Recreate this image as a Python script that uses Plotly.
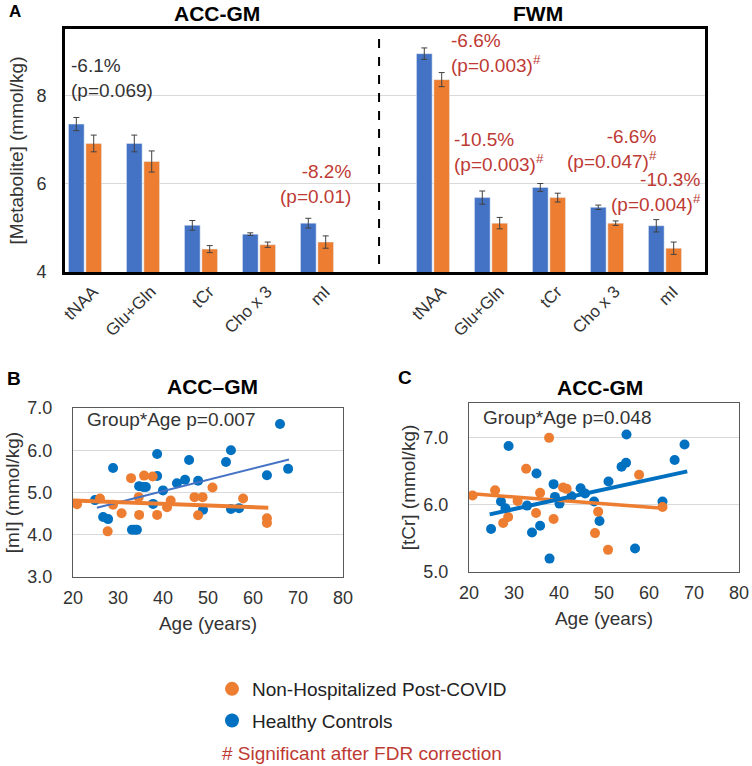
import plotly.graph_objects as go

# ---------------- DATA ----------------
metabolites = ["tNAA", "Glu+Gln", "tCr", "Cho x 3", "mI"]

acc_hc = [7.36, 6.92, 5.06, 4.86, 5.11]
acc_hc_err = [0.15, 0.19, 0.11, 0.03, 0.11]
acc_pc = [6.92, 6.51, 4.52, 4.62, 4.68]
acc_pc_err = [0.19, 0.24, 0.08, 0.06, 0.14]

fwm_hc = [8.96, 5.69, 5.92, 5.47, 5.05]
fwm_hc_err = [0.13, 0.15, 0.09, 0.05, 0.14]
fwm_pc = [8.37, 5.11, 5.69, 5.11, 4.54]
fwm_pc_err = [0.16, 0.13, 0.10, 0.05, 0.14]

# Panel B: [mI] vs age (ACC-GM)
b_hc_age = [24.9, 26.7, 27.8, 28.9, 33.1, 33.7, 34.2, 34.7, 35.6, 36.2, 37.8, 38.7, 38.7,
            40.0, 43.1, 44.9, 45.8, 47.8, 48.9, 54.0, 55.1, 55.1, 56.9, 63.1, 66.0, 67.8]
b_hc_val = [4.82, 4.42, 4.37, 5.58, 4.12, 4.12, 4.12, 5.15, 5.13, 5.13, 4.73, 5.91, 5.39,
            5.05, 5.22, 5.30, 5.77, 5.28, 4.59, 5.72, 6.00, 4.61, 4.63, 5.41, 6.62, 5.56]
b_pc_age = [20.9, 26.0, 27.7, 28.9, 30.8, 32.9, 34.7, 34.6, 35.8, 37.7, 38.7, 40.9, 41.7,
            47.0, 47.8, 48.8, 51.0, 57.8, 63.1, 63.1]
b_pc_val = [4.72, 4.86, 4.08, 4.71, 4.51, 5.34, 4.47, 4.89, 5.40, 5.38, 4.47, 4.65, 4.81,
            4.89, 4.46, 4.89, 5.12, 4.86, 4.39, 4.28]
b_hc_trend_age = [25.3, 68.0]
b_hc_trend_val = [4.64, 5.78]
b_pc_trend_age = [20.0, 63.4]
b_pc_trend_val = [4.81, 4.64]

# Panel C: [tCr] vs age (ACC-GM)
c_hc_age = [24.9, 27.1, 28.1, 28.8, 32.9, 34.0, 35.0, 35.8, 37.9, 38.8, 39.1, 40.1, 42.8,
            44.8, 45.8, 47.8, 49.0, 51.0, 53.9, 54.9, 55.0, 56.9, 63.0, 65.7, 67.9]
c_hc_val = [5.64, 6.05, 5.95, 6.88, 5.99, 5.59, 6.47, 5.69, 5.20, 6.31, 6.12, 6.02, 6.13,
            6.25, 6.17, 6.05, 5.76, 6.35, 6.57, 6.63, 7.05, 5.35, 6.05, 6.67, 6.90]
c_pc_age = [20.8, 25.8, 27.6, 28.7, 30.8, 32.7, 34.9, 35.8, 37.8, 38.8, 40.9, 41.7, 48.0,
            48.7, 50.9, 57.8, 63.0]
c_pc_val = [6.14, 6.22, 5.73, 5.82, 6.06, 6.54, 5.88, 6.18, 7.00, 5.79, 6.26, 6.24, 5.58,
            5.90, 5.33, 6.45, 5.97]
c_hc_trend_age = [24.6, 68.5]
c_hc_trend_val = [5.86, 6.50]
c_pc_trend_age = [20.0, 63.2]
c_pc_trend_val = [6.17, 5.95]

group_names = ["Non-Hospitalized Post-COVID", "Healthy Controls"]

# ---------------- STYLE ----------------
FONT = "Liberation Sans, Arial, sans-serif"
BAR_BLUE = "#4472C4"
BAR_ORANGE = "#ED7D31"
PT_BLUE = "#0070C0"
PT_ORANGE = "#ED7D31"
RED = "#BE3A34"
GRID = "#D9D9D9"
TXT = "#333333"
W, H = 752, 766

def px(x):
    return x / W

def py(y):
    return 1 - y / H

fig = go.Figure()

# ---------------- PANEL A ----------------
x_acc = list(range(len(metabolites)))
x_fwm = [i + len(metabolites) + 1 for i in range(len(metabolites))]
xa = x_acc + x_fwm

fig.add_trace(go.Bar(
    x=xa, y=acc_hc + fwm_hc, marker_color=BAR_BLUE, showlegend=False,
    error_y=dict(type="data", array=acc_hc_err + fwm_hc_err, color="#404040", thickness=1, width=3),
    xaxis="x", yaxis="y"))
fig.add_trace(go.Bar(
    x=xa, y=acc_pc + fwm_pc, marker_color=BAR_ORANGE, showlegend=False,
    error_y=dict(type="data", array=acc_pc_err + fwm_pc_err, color="#404040", thickness=1, width=3),
    xaxis="x", yaxis="y"))

# ---------------- PANEL B ----------------
fig.add_trace(go.Scatter(x=b_hc_age, y=b_hc_val, mode="markers", showlegend=False,
                         marker=dict(color=PT_BLUE, size=10), xaxis="x2", yaxis="y2"))
fig.add_trace(go.Scatter(x=b_pc_age, y=b_pc_val, mode="markers", showlegend=False,
                         marker=dict(color=PT_ORANGE, size=10), xaxis="x2", yaxis="y2"))
fig.add_trace(go.Scatter(x=b_hc_trend_age, y=b_hc_trend_val, mode="lines", showlegend=False,
                         line=dict(color=BAR_BLUE, width=2), xaxis="x2", yaxis="y2"))
fig.add_trace(go.Scatter(x=b_pc_trend_age, y=b_pc_trend_val, mode="lines", showlegend=False,
                         line=dict(color=PT_ORANGE, width=4), xaxis="x2", yaxis="y2"))

# ---------------- PANEL C ----------------
fig.add_trace(go.Scatter(x=c_hc_age, y=c_hc_val, mode="markers", showlegend=False,
                         marker=dict(color=PT_BLUE, size=10), xaxis="x3", yaxis="y3"))
fig.add_trace(go.Scatter(x=c_pc_age, y=c_pc_val, mode="markers", showlegend=False,
                         marker=dict(color=PT_ORANGE, size=10), xaxis="x3", yaxis="y3"))
fig.add_trace(go.Scatter(x=c_pc_trend_age, y=c_pc_trend_val, mode="lines", showlegend=False,
                         line=dict(color=PT_ORANGE, width=3.5), xaxis="x3", yaxis="y3"))
fig.add_trace(go.Scatter(x=c_hc_trend_age, y=c_hc_trend_val, mode="lines", showlegend=False,
                         line=dict(color=PT_BLUE, width=4), xaxis="x3", yaxis="y3"))

# legend entries (larger symbols as in the reference legend)
fig.add_trace(go.Scatter(x=[None], y=[None], mode="markers", name=group_names[0],
                         marker=dict(color=PT_ORANGE, size=14), legendrank=1, legendgroup="pc",
                         xaxis="x2", yaxis="y2"))
fig.add_trace(go.Scatter(x=[None], y=[None], mode="markers", name=group_names[1],
                         marker=dict(color=PT_BLUE, size=14), legendrank=2, legendgroup="hc",
                         xaxis="x2", yaxis="y2"))

scatter_x = dict(range=[20, 80], dtick=10, showgrid=False, zeroline=False, automargin=False,
                 showline=True, mirror=True, linecolor="#595959", linewidth=1,
                 tickfont=dict(size=18, color=TXT), ticklabelstandoff=4,
                 title=dict(text="Age (years)", font=dict(size=19, color=TXT), standoff=10))
scatter_y = dict(dtick=1, tickformat=".1f", showgrid=True, gridcolor=GRID, zeroline=False,
                 automargin=False,
                 showline=True, mirror=True, linecolor="#595959", linewidth=1,
                 tickfont=dict(size=18, color=TXT), ticklabelstandoff=16)

fig.update_layout(
    width=W, height=H, margin=dict(l=0, r=0, t=0, b=0),
    paper_bgcolor="white", plot_bgcolor="white",
    font=dict(family=FONT, color=TXT),
    barmode="group", bargap=0.4, bargroupgap=0.1,
    xaxis=dict(domain=[px(65), px(705)], anchor="y", range=[-0.345, 10.69], automargin=False,
               tickvals=xa, ticktext=metabolites + metabolites, tickangle=-45,
               tickfont=dict(size=17, color=TXT), showgrid=False, zeroline=False,
               ticklabelshift=8, ticklabelstandoff=0,
               showline=True, mirror=True, linecolor="black", linewidth=3, ticks=""),
    yaxis=dict(domain=[py(272), py(29)], anchor="x", range=[4, 9.52], tickvals=[4, 6, 8],
               automargin=False,
               showgrid=True, gridcolor=GRID, zeroline=False, showline=True, mirror=True,
               linecolor="black", linewidth=3, tickfont=dict(size=18, color=TXT),
               ticklabelstandoff=12,
               title=dict(text="[Metabolite] (mmol/kg)", font=dict(size=19, color=TXT), standoff=8)),
    xaxis2=dict(domain=[px(73), px(343)], anchor="y2", **scatter_x),
    yaxis2=dict(domain=[py(577), py(408)], anchor="x2", range=[3, 7],
                title=dict(text="[mI] (mmol/kg)", font=dict(size=19, color=TXT), standoff=2),
                **scatter_y),
    xaxis3=dict(domain=[px(469), px(739)], anchor="y3", **scatter_x),
    yaxis3=dict(domain=[py(572), py(403)], anchor="x3", range=[5, 7.52],
                title=dict(text="[tCr] (mmol/kg)", font=dict(size=19, color=TXT), standoff=2),
                **scatter_y),
    legend=dict(x=px(212), y=py(670), xanchor="left", yanchor="top",
                font=dict(size=19, color="#222"), tracegroupgap=4,
                bgcolor="rgba(0,0,0,0)"),
    showlegend=True,
)

# dashed divider between regions
fig.add_shape(type="line", xref="x", yref="y", x0=5.07, x1=5.07, y0=4.18, y1=9.42,
              line=dict(color="black", width=2, dash="dash"))

ann = []
def title(text, x, y, size=21, bold=True, color="black", xanchor="center"):
    ann.append(dict(text=f"<b>{text}</b>" if bold else text, x=px(x), y=py(y), xref="paper",
                    yref="paper", showarrow=False, xanchor=xanchor, yanchor="middle",
                    font=dict(size=size, color=color, family=FONT)))

title("A", 7, 12, size=17, xanchor="left")
title("ACC-GM", 217, 14)
title("FWM", 538, 14)
title("B", 5, 378, size=19, xanchor="left")
title("ACC–GM", 212, 386)
title("C", 396, 377, size=19, xanchor="left")
title("ACC-GM", 600, 387)

def pa(text, x, y, xanchor, color):
    ann.append(dict(text=text, x=x, y=y, xref="x", yref="y", showarrow=False,
                    xanchor=xanchor, yanchor="middle", align=xanchor,
                    font=dict(size=19, color=color, family=FONT)))

pa("-6.1%<br>(p=0.069)", -0.27, 8.41, "left", TXT)
pa("-8.2%<br>(p=0.01)", 4.62, 6.0, "right", RED)
pa("-6.6%<br>(p=0.003)<sup>#</sup>", 6.27, 8.98, "left", RED)
pa("-10.5%<br>(p=0.003)<sup>#</sup>", 6.33, 6.73, "left", RED)
pa("-6.6%<br>(p=0.047)<sup>#</sup>", 9.9, 6.8, "right", RED)
pa("-10.3%<br>(p=0.004)<sup>#</sup>", 10.65, 5.82, "right", RED)

ann.append(dict(text="Group*Age p=0.007", x=px(85), y=py(419), xref="paper", yref="paper",
                showarrow=False, xanchor="left", yanchor="middle",
                font=dict(size=19, color=TXT, family=FONT)))
ann.append(dict(text="Group*Age p=0.048", x=px(481), y=py(418), xref="paper", yref="paper",
                showarrow=False, xanchor="left", yanchor="middle",
                font=dict(size=19, color=TXT, family=FONT)))

ann.append(dict(text="# Significant after FDR correction", x=px(220), y=py(753),
                xref="paper", yref="paper", showarrow=False, xanchor="left", yanchor="middle",
                font=dict(size=19, color=RED, family=FONT)))

fig.update_layout(annotations=ann)
fig.write_html("out.html", config={"displayModeBar": False},
               post_script="document.body.style.margin='0';document.body.style.padding='0';")
